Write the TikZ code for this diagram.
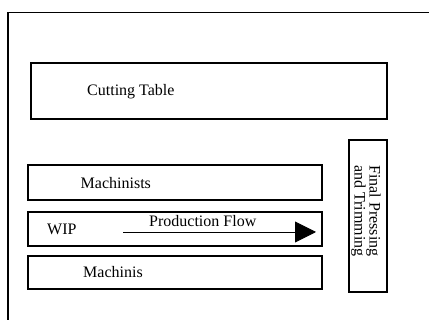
\documentclass[tikz,border=0pt]{standalone}
\usepackage{fontspec}
\setmainfont{Liberation Serif}
\usetikzlibrary{arrows.meta}

\tikzset{
  box/.style={draw, line width=1.3pt, inner sep=0pt},
  lbl/.style={anchor=base west, inner sep=0pt, font=\fontsize{16}{15}\selectfont}
}

\begin{document}
\begin{tikzpicture}[x=1pt, y=-1pt]
    \useasboundingbox (0, 0) rectangle (429, 320);
    \coordinate(fr) at (429, 12.5);
    \coordinate(fc) at (8, 12.5);
    \coordinate(fb) at (8, 320);
    \draw[line width=1.3pt] (fr)--(fc)--(fb);
    \node[box, minimum width=356, minimum height=56](cut) at (209, 91) {};
    \node[box, minimum width=294, minimum height=35](mach) at (175, 182.5) {};
    \node[box, minimum width=294, minimum height=34](wip) at (175, 229) {};
    \node[box, minimum width=294, minimum height=33](mach2) at (175, 272.5) {};
    \node[box, minimum width=38, minimum height=152](press) at (368, 216) {};
    \node[lbl](cutl) at (87, 96) {Cutting Table};
    \node[lbl](machl) at (80.5, 189) {Machinists};
    \node[lbl](wipl) at (47, 235) {WIP};
    \node[lbl](flowl) at (149, 227) {Production Flow};
    \node[lbl](mach2l) at (83, 278) {Machinis};
    \node[rotate=-90, align=center, inner sep=0pt, font=\fontsize{16}{15}\selectfont](pressl) at (366, 211) {Final Pressing\\and Trimming};
    \coordinate(fs) at (123, 232);
    \coordinate(fe) at (316, 232);
    \draw[line width=0.9pt, -{Triangle[length=21pt, width=21pt]}] (fs)--(fe);
\end{tikzpicture}
\end{document}
